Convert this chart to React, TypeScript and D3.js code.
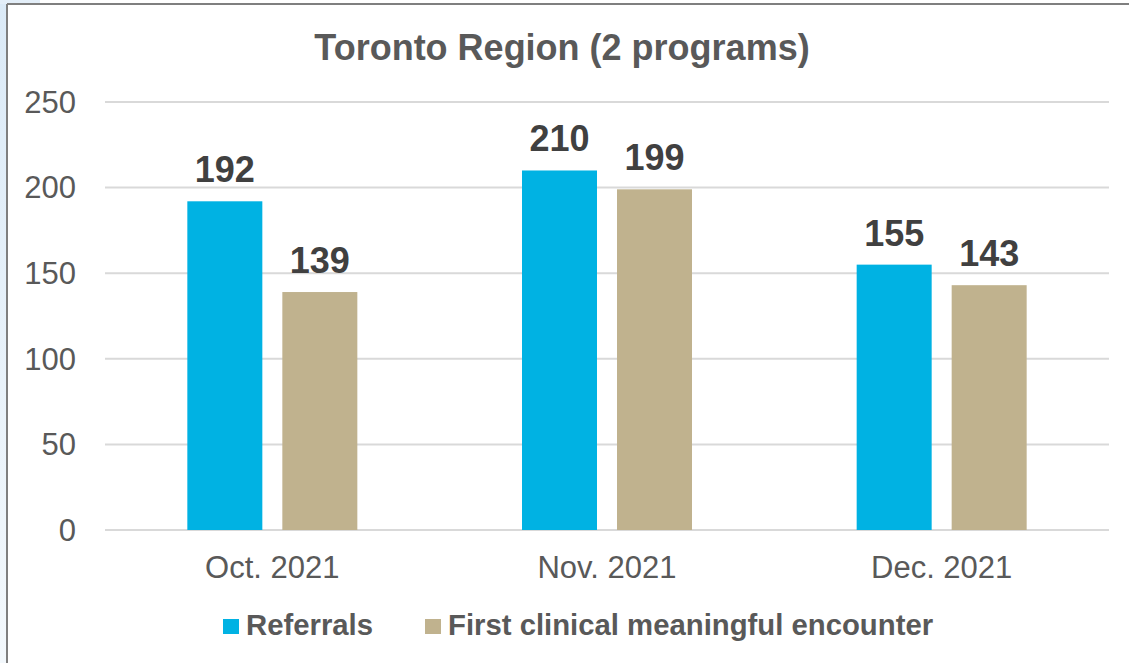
import React from "react";
import * as d3 from "d3";

const categories = ["Oct. 2021", "Nov. 2021", "Dec. 2021"];
const seriesNames = ["Referrals", "First clinical meaningful encounter"];
const referrals = [192, 210, 155];
const firstEncounter = [139, 199, 143];
const yTicks = [0, 50, 100, 150, 200, 250];
const colors = ["#00B2E3", "#C0B28E"];

const W = 1129;
const H = 663;
const font = "'Liberation Sans', Arial, Helvetica, sans-serif";

export default function App() {
  const x0 = d3.scaleBand().domain(categories).range([105, 1109]).paddingInner(0).paddingOuter(0);
  const y = d3.scaleLinear().domain([0, 250]).range([530, 102]);
  const barW = 75;
  const gap = 20;
  const series = [referrals, firstEncounter];

  return (
    <svg width={W} height={H} style={{ position: "absolute", left: 0, top: 0, background: "#fff" }}>
      <defs>
        <linearGradient id="lb" x1="0" y1="0" x2="0" y2="1">
          <stop offset="0" stopColor="#dbeaf7" />
          <stop offset="1" stopColor="#f3f8fc" />
        </linearGradient>
      </defs>
      <rect x={0} y={0} width={7} height={H} fill="url(#lb)" />
      <rect x={0} y={0} width={40} height={4} fill="#e3eef8" />
      <line x1={7} y1={4} x2={W} y2={4} stroke="#7f7f7f" strokeWidth={2} />
      <line x1={7} y1={4} x2={7} y2={H} stroke="#7f7f7f" strokeWidth={2} />

      <text x={562} y={60} textAnchor="middle" fontFamily={font} fontWeight="bold" fontSize={36} fill="#595959">
        Toronto Region (2 programs)
      </text>

      {yTicks.map((t) => (
        <g key={t}>
          <line x1={105} x2={1109} y1={y(t)} y2={y(t)} stroke="#d9d9d9" strokeWidth={2} />
          <text x={76} y={y(t)} dy="0.35em" textAnchor="end" fontFamily={font} fontSize={31} fill="#595959">
            {t}
          </text>
        </g>
      ))}

      {categories.map((c, i) => {
        const cx = (x0(c) as number) + x0.bandwidth() / 2;
        return (
          <g key={c}>
            {series.map((s, k) => {
              const bx = cx + (k === 0 ? -gap / 2 - barW : gap / 2);
              return (
                <g key={k}>
                  <rect x={bx} y={y(s[i])} width={barW} height={y(0) - y(s[i])} fill={colors[k]} />
                  <text
                    x={bx + barW / 2}
                    y={y(s[i]) - 19}
                    textAnchor="middle"
                    fontFamily={font}
                    fontWeight="bold"
                    fontSize={36}
                    fill="#404040"
                  >
                    {s[i]}
                  </text>
                </g>
              );
            })}
            <text x={cx} y={578} textAnchor="middle" fontFamily={font} fontSize={31} fill="#595959">
              {c}
            </text>
          </g>
        );
      })}

      {seriesNames.map((n, k) => {
        const lx = k === 0 ? 223 : 425;
        return (
          <g key={n}>
            <rect x={lx} y={619} width={16} height={15} fill={colors[k]} />
            <text x={lx + 23} y={635} fontFamily={font} fontWeight="bold" fontSize={29.3} fill="#595959">
              {n}
            </text>
          </g>
        );
      })}
    </svg>
  );
}
